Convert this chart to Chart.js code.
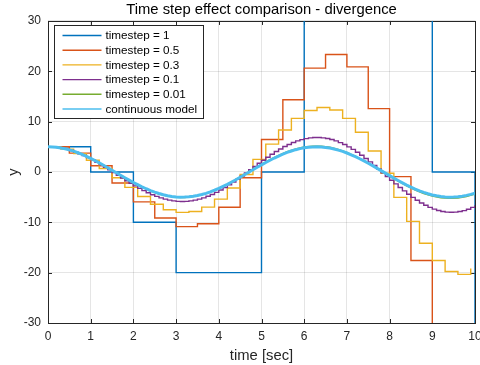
<!DOCTYPE html>
<html>
<head>
<meta charset="utf-8">
<script src="https://cdn.jsdelivr.net/npm/chart.js@4/dist/chart.umd.min.js"></script>
<style>
  html, body { margin: 0; padding: 0; background: #ffffff; }
  #wrap { width: 480px; height: 365px; }
</style>
</head>
<body>
<div id="wrap"><canvas id="c" width="480" height="365"></canvas></div>
<script>
// Series labels and colours
const seriesLabels = ['timestep = 1', 'timestep = 0.5', 'timestep = 0.3', 'timestep = 0.1', 'timestep = 0.01', 'continuous model'];
const seriesColors = ['#0072BD', '#D95319', '#EDB120', '#7E2F8E', '#77AC30', '#4DBEEE'];

// Spacing (s) between consecutive samples of each series, starting at t = 0
const sampleSpacing = [1, 0.5, 0.3, 0.1, 0.2, 0.1];

// y values of each series
const yStep1 = [5, 0, -10, -20, -20, 0, 40, 80, 80, 0, -160];

const yStep05 = [5, 3.75, 1.25, -2.19, -5.94, -9.14, -10.86, -10.29, -7.01, -1.16,
  6.45, 14.35, 20.63, 23.33, 20.87, 12.58, -0.93, -17.59, -34.01, -46.03, -49.55];

const yStep03 = [5, 4.55, 3.65, 2.34, 0.70, -1.15, -3.06, -4.87, -6.40, -7.50,
  -8.02, -7.86, -6.98, -5.40, -3.19, -0.49, 2.50, 5.53, 8.33, 10.64,
  12.20, 12.80, 12.30, 10.65, 7.89, 4.18, -0.25, -5.05, -9.82, -14.15,
  -17.59, -19.76, -20.34, -19.15];

const yStep01 = [5.00, 4.95, 4.85, 4.70, 4.50, 4.26, 3.97, 3.63, 3.26, 2.85,
  2.41, 1.94, 1.45, 0.94, 0.41, -0.13, -0.67, -1.21, -1.74, -2.27,
  -2.77, -3.25, -3.70, -4.12, -4.51, -4.85, -5.15, -5.40, -5.59, -5.74,
  -5.83, -5.86, -5.83, -5.74, -5.60, -5.39, -5.14, -4.82, -4.46, -4.05,
  -3.59, -3.10, -2.56, -2.00, -1.41, -0.80, -0.18, 0.45, 1.09, 1.72,
  2.33, 2.94, 3.51, 4.06, 4.57, 5.05, 5.47, 5.85, 6.17, 6.43,
  6.63, 6.77, 6.84, 6.84, 6.78, 6.64, 6.44, 6.17, 5.84, 5.45,
  4.99, 4.49, 3.93, 3.33, 2.69, 2.01, 1.31, 0.59, -0.15, -0.89,
  -1.63, -2.36, -3.07, -3.76, -4.42, -5.04, -5.62, -6.15, -6.62, -7.03,
  -7.37, -7.65, -7.85, -7.97, -8.01, -7.98, -7.86, -7.67, -7.39, -7.04,
  -6.62];

const yStep001 = [5.00, 4.90, 4.60, 4.11, 3.46, 2.67, 1.78, 0.81, -0.20, -1.20,
  -2.15, -3.02, -3.77, -4.37, -4.80, -5.03, -5.07, -4.90, -4.54, -4.00,
  -3.30, -2.46, -1.52, -0.52, 0.50, 1.50, 2.45, 3.30, 4.02, 4.58,
  4.96, 5.14, 5.12, 4.90, 4.47, 3.87, 3.11, 2.23, 1.26, 0.23,
  -0.81, -1.82, -2.75, -3.58, -4.27, -4.79, -5.12, -5.24, -5.16, -4.87,
  -4.38];

const yContinuous = [5.00, 4.98, 4.90, 4.78, 4.61, 4.39, 4.13, 3.82, 3.48, 3.11,
  2.70, 2.27, 1.81, 1.34, 0.85, 0.35, -0.15, -0.64, -1.14, -1.62,
  -2.08, -2.52, -2.94, -3.33, -3.69, -4.01, -4.28, -4.52, -4.71, -4.85,
  -4.95, -5.00, -4.99, -4.94, -4.83, -4.68, -4.48, -4.24, -3.95, -3.63,
  -3.27, -2.87, -2.45, -2.00, -1.54, -1.05, -0.56, -0.06, 0.44, 0.93,
  1.42, 1.89, 2.34, 2.77, 3.17, 3.54, 3.88, 4.17, 4.43, 4.64,
  4.80, 4.92, 4.98, 5.00, 4.97, 4.88, 4.75, 4.57, 4.35, 4.08,
  3.77, 3.42, 3.04, 2.63, 2.19, 1.73, 1.26, 0.77, 0.27, -0.23,
  -0.73, -1.22, -1.70, -2.16, -2.60, -3.01, -3.39, -3.74, -4.06, -4.33,
  -4.56, -4.74, -4.87, -4.96, -5.00, -4.99, -4.92, -4.81, -4.65, -4.45,
  -4.20];

const seriesValues = [yStep1, yStep05, yStep03, yStep01, yStep001, yContinuous];
const seriesStepped = [true, true, true, true, false, false];
const seriesWidths = [1.4, 1.4, 1.4, 1.4, 1.4, 3];

// Axis tick values
const xTicks = [0, 1, 2, 3, 4, 5, 6, 7, 8, 9, 10];
const yTicks = [-30, -20, -10, 0, 10, 20, 30];

const FONT = '"Liberation Sans", Arial, Helvetica, sans-serif';
const AXIS_COLOR = '#262626';
const GRID_COLOR = 'rgba(38,38,38,0.12)';

const datasets = seriesValues.map((vals, s) => ({
  label: seriesLabels[s],
  data: vals.map((v, i) => ({ x: Math.round(i * sampleSpacing[s] * 1000) / 1000, y: v })),
  borderColor: seriesColors[s],
  backgroundColor: seriesColors[s],
  borderWidth: seriesWidths[s],
  stepped: seriesStepped[s] ? 'before' : false,
  pointRadius: 0,
  tension: 0,
  fill: false,
  order: seriesValues.length - s
}));

// Full box around the axes with inward tick marks on all four sides
const axesBox = {
  id: 'axesBox',
  beforeDatasetsDraw(chart) {
    const { ctx, chartArea: a, scales } = chart;
    const tl = 4;
    ctx.save();
    ctx.strokeStyle = AXIS_COLOR;
    ctx.lineWidth = 1;
    ctx.beginPath();
    xTicks.forEach(v => {
      const px = Math.round(scales.x.getPixelForValue(v)) + 0.5;
      ctx.moveTo(px, a.bottom); ctx.lineTo(px, a.bottom - tl);
      ctx.moveTo(px, a.top); ctx.lineTo(px, a.top + tl);
    });
    yTicks.forEach(v => {
      const py = Math.round(scales.y.getPixelForValue(v)) + 0.5;
      ctx.moveTo(a.left, py); ctx.lineTo(a.left + tl, py);
      ctx.moveTo(a.right, py); ctx.lineTo(a.right - tl, py);
    });
    ctx.stroke();
    ctx.strokeRect(Math.round(a.left) + 0.5, Math.round(a.top) + 0.5,
      Math.round(a.right - a.left), Math.round(a.bottom - a.top));
    ctx.restore();
  }
};

// Legend box in the upper-left corner of the axes
const insideLegend = {
  id: 'insideLegend',
  afterDraw(chart) {
    const { ctx, chartArea: a } = chart;
    const bx = Math.round(a.left) + 6.5, by = Math.round(a.top) + 4.5;
    const bw = 149, bh = 93;
    ctx.save();
    ctx.fillStyle = '#ffffff';
    ctx.fillRect(bx, by, bw, bh);
    ctx.strokeStyle = AXIS_COLOR;
    ctx.lineWidth = 1;
    ctx.strokeRect(bx, by, bw, bh);
    ctx.font = '11.7px ' + FONT;
    ctx.textBaseline = 'middle';
    ctx.textAlign = 'left';
    chart.data.datasets.forEach((d, i) => {
      const y = by + 10 + i * 14.7;
      ctx.strokeStyle = d.borderColor;
      ctx.lineWidth = 1.4;
      ctx.beginPath();
      ctx.moveTo(bx + 8, y);
      ctx.lineTo(bx + 47, y);
      ctx.stroke();
      ctx.fillStyle = '#000000';
      ctx.fillText(d.label, bx + 51, y + 0.5);
    });
    ctx.restore();
  }
};

new Chart(document.getElementById('c'), {
  type: 'line',
  data: { datasets },
  options: {
    responsive: false,
    animation: false,
    devicePixelRatio: 1,
    events: [],
    layout: { padding: { left: 0, right: 5, top: 0, bottom: 0 } },
    plugins: {
      legend: { display: false },
      tooltip: { enabled: false },
      title: {
        display: true,
        text: 'Time step effect comparison - divergence',
        fullSize: false,
        color: '#000000',
        font: { family: FONT, size: 14.8, weight: 'normal', lineHeight: 1.2 },
        padding: { top: 1.5, bottom: 1.7 }
      }
    },
    scales: {
      x: {
        type: 'linear',
        min: 0,
        max: 10,
        afterBuildTicks(scale) { scale.ticks = xTicks.map(v => ({ value: v })); },
        afterFit(scale) { scale.height = 42; scale.paddingLeft = 0; scale.paddingRight = 0; },
        ticks: { color: AXIS_COLOR, font: { family: FONT, size: 12 }, padding: 6.5, maxRotation: 0, autoSkip: false },
        grid: { color: GRID_COLOR, drawTicks: false },
        border: { display: false },
        title: {
          display: true, text: 'time [sec]', color: AXIS_COLOR,
          font: { family: FONT, size: 14.8 }, padding: { top: 0, bottom: 0.5 }
        }
      },
      y: {
        type: 'linear',
        min: -30,
        max: 30,
        afterBuildTicks(scale) { scale.ticks = yTicks.map(v => ({ value: v })); },
        afterFit(scale) { scale.width = 48; scale.paddingTop = 0; scale.paddingBottom = 0; },
        ticks: { color: AXIS_COLOR, font: { family: FONT, size: 12 }, padding: 7 },
        grid: { color: GRID_COLOR, drawTicks: false },
        border: { display: false },
        title: {
          display: true, text: 'y', color: AXIS_COLOR,
          font: { family: FONT, size: 14.8 }, padding: { top: 5.5, bottom: 0 }
        }
      }
    }
  },
  plugins: [axesBox, insideLegend]
});
</script>
</body>
</html>
